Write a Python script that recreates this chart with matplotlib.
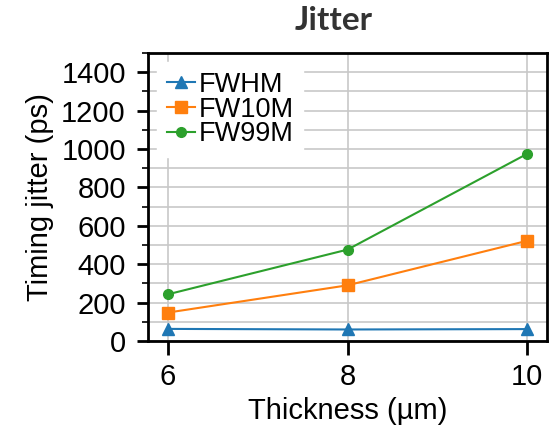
import matplotlib
matplotlib.use("Agg")
import matplotlib.pyplot as plt
from matplotlib.ticker import MultipleLocator

thickness = [6, 8, 10]
fwhm = [63, 60, 62]
fw10m = [148, 290, 522]
fw99m = [243, 476, 975]
labels = ["FWHM", "FW10M", "FW99M"]

plt.rcParams['font.family'] = ['Liberation Sans', 'DejaVu Sans']

fig = plt.figure(figsize=(5.56, 4.32), dpi=100)
ax = fig.add_axes([148/556, 1-341/432, (547-148)/556, (341-53)/432])

ax.plot(thickness, fwhm, marker='^', color='#1f77b4', ms=8, lw=1.5, label=labels[0])
ax.plot(thickness, fw10m, marker='s', color='#ff7f0e', ms=9, lw=1.5, label=labels[1])
ax.plot(thickness, fw99m, marker='o', color='#2ca02c', ms=7, lw=1.5, label=labels[2])

ax.set_xlim(5.78, 10.22)
ax.set_ylim(0, 1500)
ax.set_xticks([6, 8, 10])
ax.yaxis.set_major_locator(MultipleLocator(200))
ax.yaxis.set_minor_locator(MultipleLocator(100))
ax.grid(True, which='major', color='#c8c8c8', lw=1.2)
ax.grid(True, which='minor', axis='y', color='#c8c8c8', lw=1.2)
ax.set_axisbelow(True)

for s in ax.spines.values():
    s.set_linewidth(2)
ax.tick_params(axis='both', which='major', labelsize=21, width=2, length=8, direction='out', color='black')
ax.tick_params(axis='y', which='minor', width=1.2, length=4, direction='out')
ax.tick_params(axis='y', which='major', pad=8)
ax.tick_params(axis='x', which='major', length=10, pad=6)

ax.set_xlabel('Thickness (µm)', fontsize=21, labelpad=4)
ax.set_ylabel('Timing jitter (ps)', fontsize=21, labelpad=5)

leg = ax.legend(loc='upper left', fontsize=19.5, frameon=True, fancybox=False,
                edgecolor='white', framealpha=1, handlelength=1.05, handletextpad=0.12,
                labelspacing=-0.05, borderpad=0.35, borderaxespad=0.35)

fig.text(334/556, 1-20/432, 'Jitter', fontsize=24, fontweight='bold', color='#333333',
         ha='center', va='center', family=['Lato', 'DejaVu Sans'])

fig.savefig('out.png', dpi=100)
